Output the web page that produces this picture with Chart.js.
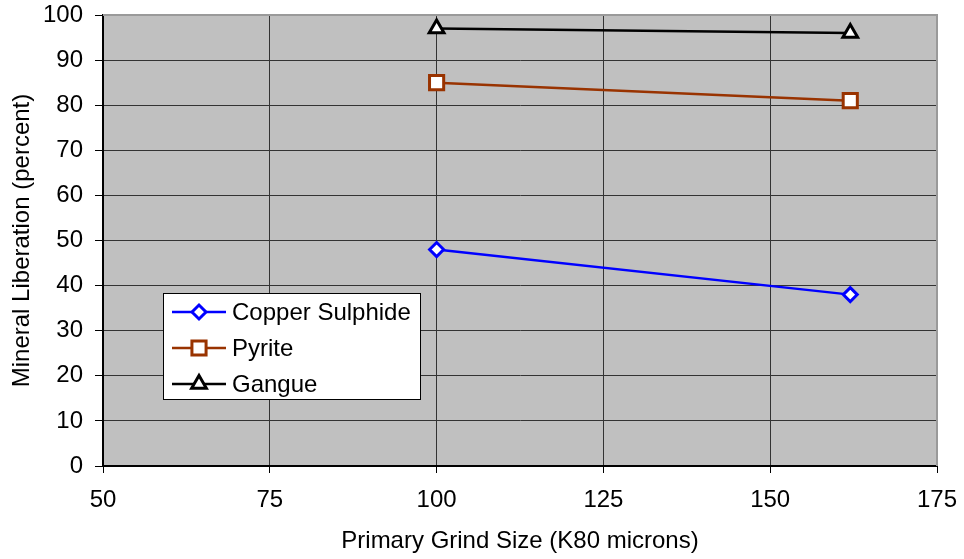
<!DOCTYPE html>
<html>
<head>
<meta charset="utf-8">
<script src="https://cdn.jsdelivr.net/npm/chart.js@4/dist/chart.umd.min.js"></script>
<style>
  html, body { margin: 0; padding: 0; background: #fff; }
  #wrap { width: 964px; height: 559px; }
</style>
</head>
<body>
<div id="wrap"><canvas id="myChart" width="964" height="559"></canvas></div>
<script>
// data
const grindSizes = [100, 162];
const copperSulphide = [48, 38];
const pyrite = [85, 81];
const gangue = [97, 96];

const xTicks = [50, 75, 100, 125, 150, 175];
const yTicks = [0, 10, 20, 30, 40, 50, 60, 70, 80, 90, 100];

const FONT = "'Liberation Sans', Arial, sans-serif";
const FS = 24;

function pts(ys) {
  return grindSizes.map((x, i) => ({ x: x, y: ys[i] }));
}

// grey plot background + grey top/right frame
const plotBg = {
  id: 'plotBg',
  beforeDraw(chart) {
    const { ctx, chartArea: a } = chart;
    ctx.save();
    ctx.fillStyle = '#c0c0c0';
    ctx.fillRect(a.left, a.top, a.right - a.left, a.bottom - a.top);
    ctx.restore();
  },
  afterDatasetsDraw(chart) {
    const { ctx, chartArea: a } = chart;
    ctx.save();
    ctx.strokeStyle = '#9a9a9a';
    ctx.lineWidth = 2;
    ctx.beginPath();
    ctx.moveTo(a.left, a.top);
    ctx.lineTo(a.right, a.top);
    ctx.lineTo(a.right, a.bottom);
    ctx.stroke();
    ctx.restore();
  }
};

// boxed legend sitting inside the plot area, bottom left
const boxLegend = {
  id: 'boxLegend',
  afterDraw(chart) {
    const { ctx } = chart;
    const x0 = 163, y0 = 293, w = 258, h = 107;
    ctx.save();
    ctx.fillStyle = '#fff';
    ctx.fillRect(x0, y0, w, h);
    ctx.strokeStyle = '#000';
    ctx.lineWidth = 1;
    ctx.strokeRect(x0 + 0.5, y0 + 0.5, w - 1, h - 1);
    chart.data.datasets.forEach((ds, i) => {
      const cy = 312 + i * 36;
      ctx.strokeStyle = ds.borderColor;
      ctx.lineWidth = ds.borderWidth;
      ctx.beginPath();
      ctx.moveTo(172, cy);
      ctx.lineTo(226, cy);
      ctx.stroke();
      ctx.fillStyle = '#fff';
      ctx.strokeStyle = ds.pointBorderColor;
      ctx.lineWidth = ds.pointBorderWidth;
      Chart.helpers.drawPoint(ctx, { pointStyle: ds.pointStyle, radius: ds.pointRadius, rotation: 0, borderWidth: ds.pointBorderWidth }, 199, cy);
      ctx.fillStyle = '#000';
      ctx.font = FS + 'px ' + FONT;
      ctx.textBaseline = 'middle';
      ctx.textAlign = 'left';
      ctx.fillText(ds.label, 232, cy + 1);
    });
    ctx.restore();
  }
};

const ctx = document.getElementById('myChart').getContext('2d');
const myChart = new Chart(ctx, {
  type: 'line',
  data: {
    datasets: [{
      label: 'Copper Sulphide',
      data: pts(copperSulphide),
      borderColor: '#0000ff',
      borderWidth: 2.5,
      pointStyle: 'rectRot',
      pointRadius: 7,
      pointBackgroundColor: '#fff',
      pointBorderColor: '#0000ff',
      pointBorderWidth: 3
    }, {
      label: 'Pyrite',
      data: pts(pyrite),
      borderColor: '#993300',
      borderWidth: 2.5,
      pointStyle: 'rect',
      pointRadius: 10,
      pointBackgroundColor: '#fff',
      pointBorderColor: '#993300',
      pointBorderWidth: 3
    }, {
      label: 'Gangue',
      data: pts(gangue),
      borderColor: '#000',
      borderWidth: 2.5,
      pointStyle: 'triangle',
      pointRadius: 8.5,
      pointBackgroundColor: '#fff',
      pointBorderColor: '#000',
      pointBorderWidth: 3
    }]
  },
  options: {
    responsive: false,
    animation: false,
    layout: { padding: { top: 15, right: 27, left: 0, bottom: 0 } },
    plugins: {
      legend: { display: false },
      tooltip: { enabled: false }
    },
    scales: {
      x: {
        type: 'linear',
        min: 50,
        max: 175,
        afterBuildTicks: s => { s.ticks = xTicks.map(v => ({ value: v })); },
        afterFit: s => { s.height = 93; s.paddingLeft = 0; s.paddingRight = 0; },
        grid: { color: '#333', lineWidth: 1, tickLength: 7, tickColor: '#000' },
        border: { color: '#000', width: 2 },
        ticks: { color: '#000', font: { family: FONT, size: FS }, padding: 13, maxRotation: 0 },
        title: { display: true, text: 'Primary Grind Size (K80 microns)', color: '#000', font: { family: FONT, size: FS }, padding: { top: 0, bottom: 3 } }
      },
      y: {
        min: 0,
        max: 100,
        afterBuildTicks: s => { s.ticks = yTicks.map(v => ({ value: v })); },
        afterFit: s => { s.width = 103; s.paddingTop = 0; s.paddingBottom = 0; },
        grid: { color: '#333', lineWidth: 1, tickLength: 8, tickColor: '#000' },
        border: { color: '#000', width: 2 },
        ticks: { color: '#000', font: { family: FONT, size: FS }, padding: 12 },
        title: { display: true, text: 'Mineral Liberation (percent)', color: '#000', font: { family: FONT, size: FS }, padding: { top: 8, bottom: 0 } }
      }
    }
  },
  plugins: [plotBg, boxLegend]
});
</script>
</body>
</html>
